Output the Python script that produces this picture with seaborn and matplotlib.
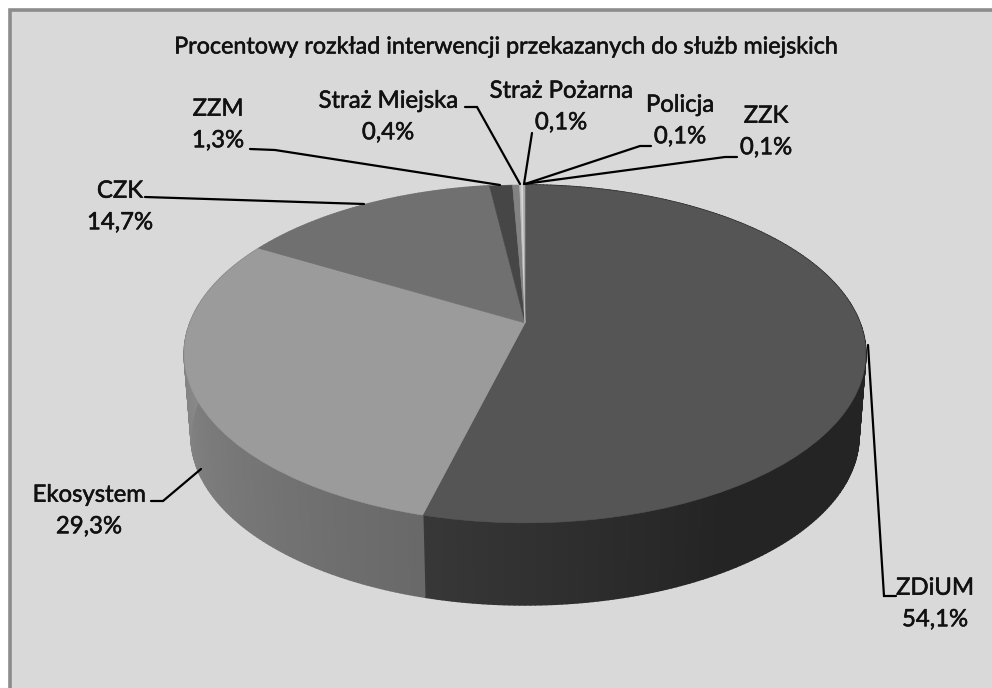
import numpy as np
import matplotlib
matplotlib.use("Agg")
import matplotlib.pyplot as plt
import matplotlib.patheffects as pe
import seaborn as sns
from matplotlib.collections import PolyCollection
from matplotlib.patches import Rectangle
from matplotlib.transforms import Transform

# ---- data ----
title = "Procentowy rozkład interwencji przekazanych do służb miejskich"
categories = ["ZDiUM", "Ekosystem", "CZK", "ZZM", "Straż Miejska", "Straż Pożarna", "Policja", "ZZK"]
values = [54.1, 29.3, 14.7, 1.3, 0.4, 0.1, 0.1, 0.1]

# ---- styles ----
top_greys = [85, 155, 112, 70, 130, 190, 215, 170]
wall_stops = {0: ([90, 150, 195], [36, 36, 56]),
              1: ([195, 270], [105, 136]),
              2: ([300, 353], [120, 120])}
label_xy = [(935, 604), (89, 511), (120, 207), (218, 125), (388, 117), (561, 107), (680, 121), (766, 132)]
leader_paths = [
    [(868, 345), (884, 596), (896, 596)],
    [(201, 469), (163, 501), (151, 501)],
    [(145, 197), (364, 204)],
    [(250, 149), (275, 150), (500, 185)],
    [(465, 107), (477, 107), (520, 184)],
    [(532, 133), (524, 184)],
    [(651, 146), (640, 146), (525, 184)],
    [(737, 157), (725, 157), (524, 184)],
]

CX, CY, A, B, K = 525.0, 323.0, 335.0, 163.3, 0.183
DEPTH, SHRINK = 82.0, 0.98


class Tilt(Transform):
    """Perspective view of the unit-circle pie onto the pixel-scaled data axes."""
    input_dims = output_dims = 2
    is_separable = False
    has_inverse = False

    def transform_non_affine(self, pts):
        pts = np.asarray(pts, float)
        d = 1 + K * pts[:, 1]
        return np.column_stack([CX + A * pts[:, 0] / d, CY - B * pts[:, 1] / d])


def rim(theta_deg):
    t = np.radians(theta_deg)
    return Tilt().transform_non_affine(np.column_stack([np.sin(t), np.cos(t)]))


sns.set_theme(style="white")
plt.rcParams["font.family"] = ["Lato", "DejaVu Sans"]


def grey(v):
    return (v / 255, v / 255, v / 255)


fig = plt.figure(figsize=(9.92, 6.88), dpi=100, facecolor="white")
ax = fig.add_axes([0, 0, 1, 1])

wedges, _ = ax.pie(values, startangle=90, counterclock=False,
                   colors=[grey(g) for g in top_greys],
                   wedgeprops={"linewidth": 0})
tilt = Tilt() + ax.transData
for w, g in zip(wedges, top_greys):
    w.set_transform(tilt)
    w.set_edgecolor(grey(g))
    w.set_linewidth(0.4)
    w.set_zorder(3)

ax.set_aspect("auto")
ax.set_xlim(0, 992)
ax.set_ylim(688, 0)
ax.set_axis_off()

# panel
ax.add_patch(Rectangle((10, 10), 990, 690, facecolor=grey(217), edgecolor=grey(140), linewidth=2.6, zorder=0))

# side wall, cut at the same angles as the top face
edges = np.concatenate([[0], np.cumsum(values)]) / sum(values) * 360
polys, shades = [], []
for i, (xs, ys) in wall_stops.items():
    th = np.arange(edges[i], edges[i + 1] + 0.75, 0.75)
    th = np.minimum(th, edges[i + 1])
    top = rim(th)
    bot = np.column_stack([CX + (top[:, 0] - CX) * SHRINK, top[:, 1] + DEPTH])
    for j in range(len(th) - 1):
        polys.append([top[j], top[j + 1], bot[j + 1], bot[j]])
        shades.append(grey(np.interp(th[j], xs, ys)))
ax.add_collection(PolyCollection(polys, facecolors=shades, edgecolors=shades, linewidths=1.2, zorder=2))

# leaders
for path in leader_paths:
    p = np.array(path)
    ax.plot(p[:, 0], p[:, 1], color="black", lw=1.6, solid_joinstyle="miter", zorder=4)

# labels
heavy = [pe.withStroke(linewidth=0.4, foreground="#111111")]
for name, v, (x, y) in zip(categories, values, label_xy):
    ax.text(x, y, f"{name}\n{v:.1f}%".replace(".", ","), ha="center", va="center",
            fontsize=17.2, linespacing=1.62, color="#111111", zorder=5, path_effects=heavy)

ax.text(507, 47, title, ha="center", va="center", fontsize=16.8, color="#111111", zorder=5,
        path_effects=heavy)

fig.savefig("out.png", dpi=100, facecolor="white")
